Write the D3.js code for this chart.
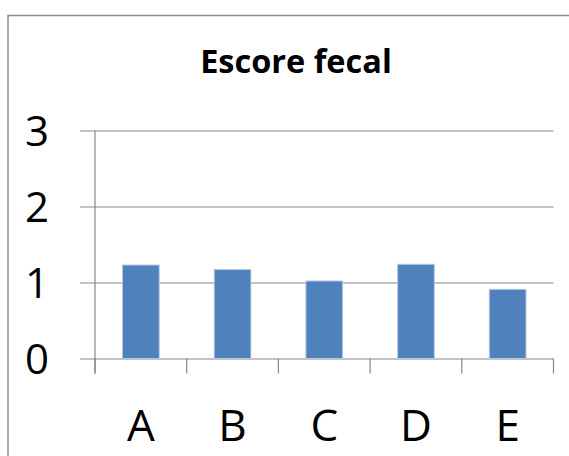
<!DOCTYPE html>
<html>
<head>
<meta charset="utf-8">
<script src="https://cdn.jsdelivr.net/npm/d3@7"></script>
<style>
  html, body { margin: 0; padding: 0; background: #fff; }
  svg { display: block; }
  text { font-family: "Open Sans", "Noto Sans", sans-serif; fill: #000; }
</style>
</head>
<body>
<div id="chart"></div>
<script>
// Fecal score per group
const categories = ["A", "B", "C", "D", "E"];
const values = [1.23, 1.17, 1.02, 1.24, 0.91];
const yTicks = [0, 1, 2, 3];
const title = "Escore fecal";

const W = 569, H = 456;
const plot = { left: 95, right: 553.5, top: 130.5, bottom: 358.5 };
const tickLen = 15;
const gridColor = "#878787";

const svg = d3.select("#chart").append("svg")
  .attr("width", W).attr("height", H);

// chart frame (runs past the right and bottom edges)
svg.append("rect")
  .attr("x", 8).attr("y", 15.5)
  .attr("width", W + 20).attr("height", H + 20)
  .attr("fill", "#fff")
  .attr("stroke", "#8c8c8c").attr("stroke-width", 1.5);

const x = d3.scaleBand()
  .domain(categories)
  .range([plot.left, plot.right])
  .paddingInner(0.6).paddingOuter(0.3);

const xTicksScale = d3.scaleBand().domain(categories).range([plot.left, plot.right]);

const y = d3.scaleLinear()
  .domain([0, 3])
  .range([plot.bottom, plot.top]);

// horizontal gridlines + left ticks
const yAxis = d3.axisLeft(y)
  .tickValues(yTicks)
  .tickSize(-(plot.right - plot.left))
  .tickFormat("");
const gy = svg.append("g")
  .attr("transform", `translate(${plot.left},0)`)
  .call(yAxis);
gy.select(".domain").remove();
gy.selectAll(".tick line")
  .attr("x1", -tickLen)
  .attr("stroke", gridColor).attr("stroke-width", 1.2);

// y axis line
svg.append("line")
  .attr("x1", plot.left).attr("x2", plot.left)
  .attr("y1", plot.top).attr("y2", plot.bottom + tickLen)
  .attr("stroke", gridColor).attr("stroke-width", 1.2);

// y tick labels
svg.append("g").selectAll("text")
  .data(yTicks)
  .join("text")
  .attr("x", 49)
  .attr("y", d => y(d))
  .attr("dy", "0.36em")
  .attr("text-anchor", "end")
  .style("font-size", "42px")
  .text(d => d);

// category boundary ticks
const boundaries = categories.map(c => xTicksScale(c)).concat([plot.right]);
svg.append("g").selectAll("line")
  .data(boundaries)
  .join("line")
  .attr("x1", d => d).attr("x2", d => d)
  .attr("y1", plot.bottom).attr("y2", plot.bottom + tickLen)
  .attr("stroke", gridColor).attr("stroke-width", 1.2);

// bars
svg.append("g").selectAll("rect")
  .data(values)
  .join("rect")
  .attr("x", (d, i) => x(categories[i]))
  .attr("y", d => y(d))
  .attr("width", x.bandwidth())
  .attr("height", d => y(0) - y(d))
  .attr("fill", "#4f81bd")
  .attr("stroke", "#b4c8e2").attr("stroke-width", 1);

// category labels
svg.append("g").selectAll("text")
  .data(categories)
  .join("text")
  .attr("x", d => xTicksScale(d) + xTicksScale.bandwidth() / 2)
  .attr("y", 440.5)
  .attr("text-anchor", "middle")
  .style("font-size", "44px")
  .text(d => d);

// title
svg.append("text")
  .attr("x", 296)
  .attr("y", 72.5)
  .attr("text-anchor", "middle")
  .style("font-size", "32.5px")
  .style("font-weight", "bold")
  .text(title);
</script>
</body>
</html>
